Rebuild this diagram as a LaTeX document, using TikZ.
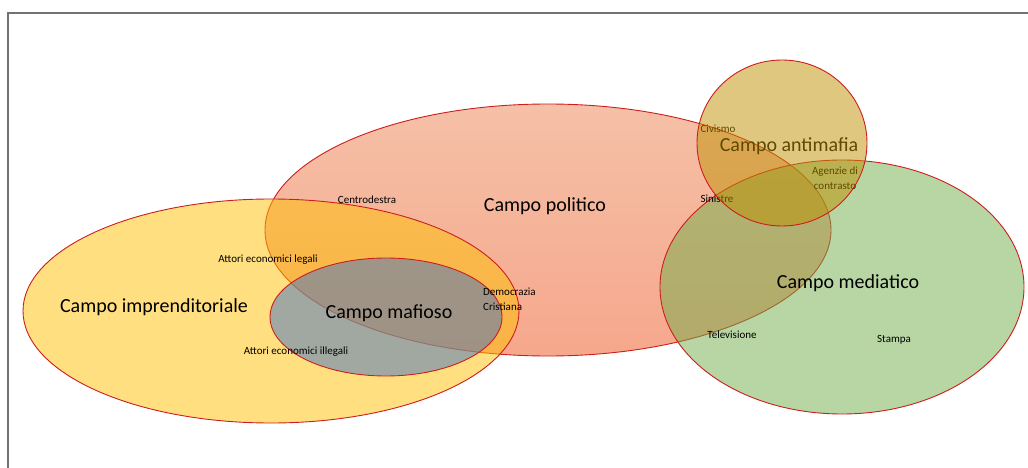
\documentclass[tikz,border=0pt]{standalone}
\usepackage{fontspec}
\setmainfont{Carlito}
\definecolor{orlo}{RGB}{205,30,30}
\definecolor{cornice}{RGB}{118,113,113}
\definecolor{oro}{RGB}{255,192,0}
\definecolor{arancio}{RGB}{235,130,80}
\definecolor{arancioscuro}{RGB}{237,80,25}
\definecolor{blu}{RGB}{68,114,196}
\definecolor{verde}{RGB}{112,173,71}
\definecolor{ocra}{RGB}{191,144,0}

\begin{document}
\begin{tikzpicture}[x=1pt,y=-1pt
    ,campo/.style={draw=orlo,line width=0.9pt,fill opacity=0.5}
    ,grande/.style={font=\fontsize{20}{24}\selectfont,inner sep=0pt}
    ,piccolo/.style={font=\fontsize{11}{15}\selectfont,inner sep=0pt}]
\useasboundingbox (0,0) rectangle (1028,468);
\draw[cornice,line width=2pt] (8,468) -- (8,13) -- (1028,13);

% centri dei campi
\coordinate (impr) at (271,311);
\coordinate (poli) at (548,230);
\coordinate (mafi) at (386,317);
\coordinate (medi) at (842,287);
\coordinate (anti) at (782,143);

\draw[campo,top color=arancio,bottom color=arancioscuro] (poli) ellipse [x radius=283pt,y radius=126pt];
\draw[campo,fill=oro] (impr) ellipse [x radius=248pt,y radius=112pt];
\draw[campo,fill=blu] (mafi) ellipse [x radius=116pt,y radius=59pt];
\draw[campo,fill=verde] (medi) ellipse [x radius=182pt,y radius=127pt];

% etichette
\node[grande] (timpr) at (154,307) {Campo imprenditoriale};
\node[grande] (tpoli) at (545,206) {Campo politico};
\node[grande] (tmafi) at (389,313) {Campo mafioso};
\node[grande] (tmedi) at (848,283) {Campo mediatico};
\node[grande] (tanti) at (789,146) {Campo antimafia};
\node[piccolo] (centrodx) at (367,200) {Centrodestra};
\node[piccolo] (legali) at (268,260) {Attori economici legali};
\node[piccolo] (illegali) at (296,352) {Attori economici illegali};
\node[piccolo,align=left,anchor=west] (dc) at (483,299) {Democrazia\\Cristiana};
\node[piccolo] (civismo) at (718,129) {Civismo};
\node[piccolo] (sinistre) at (717,199) {Sinistre};
\node[piccolo,align=center] (agenzie) at (835,178) {Agenzie di\\contrasto};
\node[piccolo] (tv) at (732,335) {Televisione};
\node[piccolo] (stampa) at (894,340) {Stampa};

\draw[campo,fill=ocra] (anti) ellipse [x radius=85pt,y radius=83pt];
\end{tikzpicture}
\end{document}
